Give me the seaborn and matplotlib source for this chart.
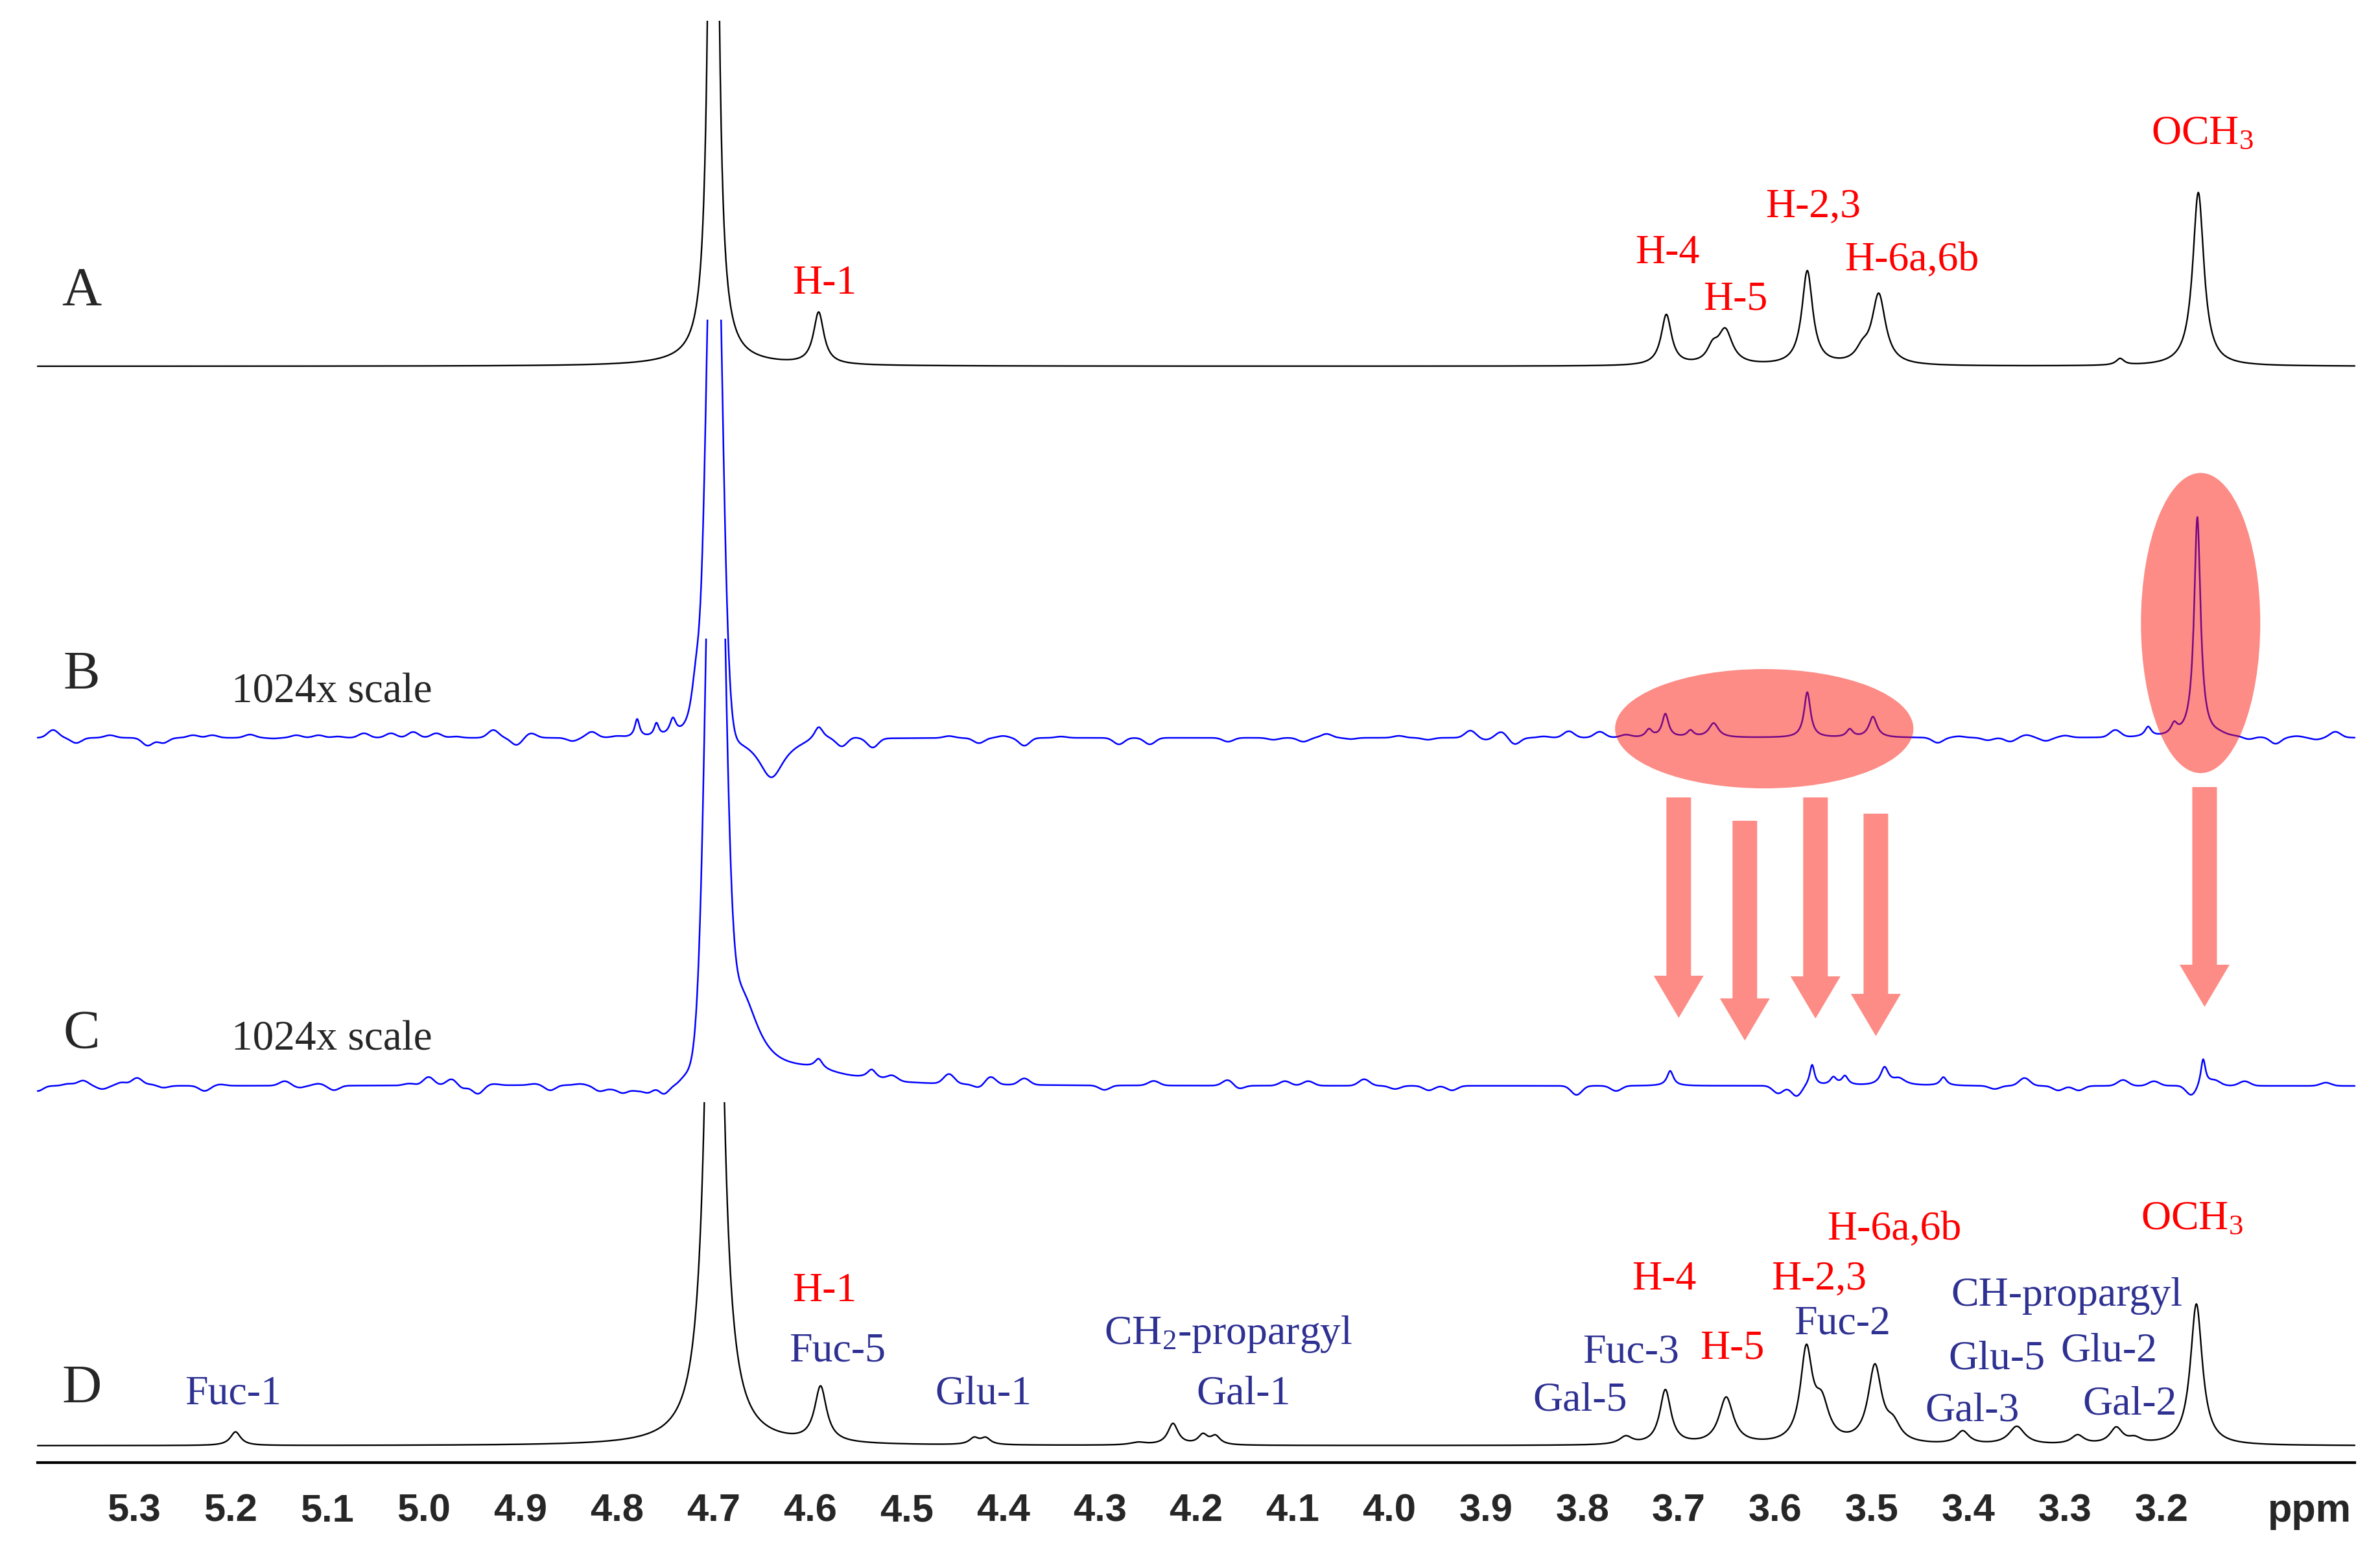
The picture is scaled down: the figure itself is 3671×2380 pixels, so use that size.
import numpy as np
import matplotlib
matplotlib.use('Agg')
import matplotlib.pyplot as plt
from matplotlib.patches import Ellipse, Rectangle
import seaborn as sns

# chemical shift axis
ppm = np.linspace(5.40, 3.00, 4801)

# --- peak tables: (shift ppm, height, half width ppm) ---
# A: reference compound, black
a_peaks = [(4.700, 1900, 0.0039), (4.700, 6, 0.06), (4.591, 80, 0.0065),
           (3.713, 78, 0.0065), (3.665, 22, 0.007), (3.652, 52, 0.009),
           (3.567, 145, 0.0068), (3.510, 18, 0.008), (3.493, 108, 0.0085),
           (3.243, 10, 0.005), (3.162, 268, 0.007)]

# B: 1024x scale, blue (HOD core is gaussian)
b_core = [(4.699, 1000, 0.0074)]
b_peaks = [(4.779, 28, 0.003), (4.759, 20, 0.003), (4.742, 25, 0.004),
           (4.718, 90, 0.007), (4.640, -62, 0.016), (4.591, 22, 0.006),
           (3.731, 12, 0.004), (3.714, 36, 0.004), (3.688, 10, 0.004),
           (3.664, 22, 0.006), (3.567, 70, 0.004), (3.523, 12, 0.004),
           (3.499, 32, 0.005), (3.214, 15, 0.004), (3.187, 16, 0.004),
           (3.163, 340, 0.004)]
b_noise = [(5.384, 12), (5.360, -8), (5.325, 4), (5.286, -12), (5.270, -8),
           (5.239, 4), (5.219, 4), (5.180, 5), (5.156, -1), (5.132, 4),
           (5.109, 4), (5.089, 2), (5.062, 7), (5.034, 7), (5.011, 9),
           (4.987, 7), (4.967, 2), (4.928, 12), (4.904, -11), (4.889, 7),
           (4.846, -5), (4.826, 9), (4.800, 2), (4.567, -12), (4.555, 2),
           (4.535, -14), (4.500, 0), (4.456, 3), (4.425, -8), (4.400, 3),
           (4.378, -12), (4.340, 2), (4.280, -10), (4.248, -10), (4.167, -6),
           (4.120, -3), (4.089, -6), (4.065, 6), (4.040, -2), (3.990, 3),
           (3.960, -3), (3.916, 11), (3.900, -3), (3.884, 9), (3.870, -10),
           (3.840, 2), (3.814, 10), (3.782, 9), (3.755, 4), (3.432, -8),
           (3.410, 2), (3.380, -4), (3.357, -6), (3.340, 4), (3.320, -5),
           (3.300, 3), (3.248, 11), (3.140, 2), (3.110, -4), (3.082, -10),
           (3.060, 2), (3.040, -3), (3.020, 9)]

# C: 1024x scale, blue
c_core = [(4.698, 1188, 0.0087)]
c_peaks = [(4.672, 140, 0.022), (4.600, 18, 0.05), (4.591, 15, 0.005),
           (4.536, 15, 0.006), (4.780, -10, 0.03), (3.709, 23, 0.004),
           (3.562, 32, 0.003), (3.540, 12, 0.004), (3.528, 14, 0.004),
           (3.487, 27, 0.005), (3.472, 10, 0.008), (3.426, 13, 0.004),
           (3.157, 42, 0.003)]
c_noise = [(5.400, -8), (5.368, 3), (5.353, 8), (5.333, -5), (5.313, 5),
           (5.297, 12), (5.282, 2), (5.270, -3), (5.227, -8), (5.211, 2),
           (5.144, 7), (5.129, -3), (5.109, 3), (5.093, -7), (5.015, 3),
           (4.995, 13), (4.971, 10), (4.960, -5), (4.944, -13), (4.928, 2),
           (4.885, 2), (4.869, -8), (4.838, 2), (4.818, -8), (4.806, -3),
           (4.794, -8), (4.779, -4), (4.767, -10), (4.751, -18), (4.739, -8),
           (4.515, 8), (4.456, 15), (4.425, -5), (4.413, 12), (4.378, 10),
           (4.295, -7), (4.244, 7), (4.167, 9), (4.156, -5), (4.108, 7),
           (4.084, 7), (4.026, 10), (3.994, -5), (3.959, -7), (3.935, -7),
           (3.806, -14), (3.765, -8), (3.597, -12), (3.578, -17), (3.373, -5),
           (3.342, 12), (3.307, -7), (3.286, -7), (3.240, 9), (3.208, 7),
           (3.169, -16), (3.145, 7), (3.114, 7), (3.030, 5)]

# D: product, black
d_peaks = [(5.195, 21, 0.0065), (4.699, 1472, 0.0078), (4.589, 85, 0.0075),
           (4.430, 10, 0.006), (4.418, 10, 0.006), (4.260, 4, 0.01),
           (4.224, 33, 0.0065), (4.193, 15, 0.006), (4.180, 13, 0.006),
           (3.755, 12, 0.008), (3.714, 84, 0.007), (3.651, 72, 0.009),
           (3.568, 140, 0.0075), (3.552, 55, 0.009), (3.497, 118, 0.0085),
           (3.478, 25, 0.009), (3.406, 20, 0.008), (3.350, 28, 0.010),
           (3.287, 14, 0.008), (3.247, 25, 0.008), (3.228, 8, 0.008),
           (3.164, 218, 0.0075)]

red_a = ['H-1', 'H-4', 'H-5', 'H-2,3', 'H-6a,6b', 'OCH$_3$']
red_d = ['H-1', 'H-4', 'H-5', 'H-2,3', 'H-6a,6b', 'OCH$_3$']
blue_d = ['Fuc-1', 'Fuc-5', 'Glu-1', 'CH$_2$-propargyl', 'Gal-1', 'Gal-5',
          'Fuc-3', 'Fuc-2', 'CH-propargyl', 'Glu-5', 'Glu-2', 'Gal-3', 'Gal-2']
panel_names = ['A', 'B', 'C', 'D']
scale_note = '1024x scale'


def lorentz(peaks):
    out = np.zeros_like(ppm)
    for pos, h, w in peaks:
        out += h * w ** 2 / ((ppm - pos) ** 2 + w ** 2)
    return out


def gauss(peaks):
    out = np.zeros_like(ppm)
    for pos, h, s in peaks:
        out += h * np.exp(-0.5 * ((ppm - pos) / s) ** 2)
    return out


def wiggle(noise):
    return gauss([(p, a, 0.0055) for p, a in noise])


spec_a = lorentz(a_peaks)
spec_b = gauss(b_core) + lorentz(b_peaks) + wiggle(b_noise)
spec_c = gauss(c_core) + lorentz(c_peaks) + wiggle(c_noise)
spec_d = lorentz(d_peaks)

sns.set_style('white')
plt.rcParams['font.family'] = ['Liberation Serif', 'DejaVu Serif']
plt.rcParams['mathtext.fontset'] = 'custom'
plt.rcParams['mathtext.rm'] = 'Liberation Serif'
plt.rcParams['mathtext.it'] = 'Liberation Serif:italic'

fig = plt.figure(figsize=(36.71, 23.80), dpi=100)
ax = fig.add_axes([58 / 3671, 124 / 2380, 3574 / 3671, 2256 / 2380])

# stacked traces: (signal, vertical offset, cut-off height, colour, width)
traces = [(spec_a, 1691, 533, 'black', 1.7),
          (spec_b, 1118, 645, '#0000FF', 1.8),
          (spec_c, 581, 690, '#0000FF', 1.8),
          (spec_d, 26, 530, 'black', 1.7)]
for sig, off, cut, col, lw in traces:
    n0 = len(ax.lines)
    sns.lineplot(x=ppm, y=off + sig, ax=ax, color=col, linewidth=lw,
                 estimator=None, sort=False)
    for ln in ax.lines[n0:]:
        ln.set_clip_path(Rectangle((2.9, -60), 2.6, off + cut + 60,
                                   transform=ax.transData))
        ln.set_zorder(2)

# highlight ellipses and arrows
hl = dict(facecolor='#FA0F00', edgecolor='none', alpha=0.48, zorder=3)
ax.add_patch(Ellipse((3.6116, 1132), 0.309, 184, **hl))
ax.add_patch(Ellipse((3.1596, 1295), 0.1236, 463, **hl))
for x, top, tip in [(3.7002, 1026, 686), (3.6317, 990, 651),
                    (3.5585, 1026, 685), (3.4960, 1001, 658),
                    (3.1555, 1042, 703)]:
    ax.arrow(x, top, 0, tip - top, width=0.0255, head_width=0.0517,
             head_length=65, length_includes_head=True, **hl)

# panel letters and scale notes
for name, (x, y) in zip(panel_names, [(5.3544, 1785), (5.3544, 1193),
                                      (5.3544, 639), (5.3544, 92)]):
    ax.text(x, y, name, fontsize=61, ha='center', va='baseline')
for y in [1173, 636]:
    ax.text(5.199, y, scale_note, fontsize=47, ha='left', va='baseline')

red_a_xy = [(4.5847, 1803), (3.7116, 1850), (3.6411, 1778), (3.5612, 1921),
            (3.4591, 1839), (3.1576, 2034)]
red_d_xy = [(4.5847, 249), (3.7156, 267), (3.6445, 160), (3.5551, 267),
            (3.4772, 344), (3.1683, 360)]
blue_d_xy = [(5.1972, 90), (4.5719, 156), (4.4202, 91), (4.1663, 183),
             (4.1509, 91), (3.8023, 81), (3.7499, 154), (3.5310, 199),
             (3.2985, 242), (3.3704, 144), (3.2543, 157), (3.3960, 65),
             (3.2328, 74)]
for labels, xy, col in [(red_a, red_a_xy, '#FF0000'), (red_d, red_d_xy, '#FF0000'),
                        (blue_d, blue_d_xy, '#2E3192')]:
    for s, (x, y) in zip(labels, xy):
        ax.text(x, y, s, fontsize=46, color=col, ha='center', va='baseline',
                zorder=4)

# axis
ax.set_xlim(5.40, 3.00)
ax.set_ylim(0, 2256)
major = np.round(np.arange(5.4, 2.95, -0.1), 1)
ax.set_xticks(major)
ax.set_xticklabels(['' if v in (5.4, 3.1, 3.0) else f'{v:.1f}' for v in major])
ax.set_xticks(np.round(np.arange(3.0, 5.41, 0.02), 2), minor=True)
ax.set_yticks([])
ax.tick_params(axis='x', which='major', direction='out', length=22, width=1.6,
               pad=12, labelsize=43, color='black')
ax.tick_params(axis='x', which='minor', direction='out', length=8, width=1.4,
               color='black')
for lbl in ax.get_xticklabels():
    lbl.set_fontfamily(['Liberation Sans', 'DejaVu Sans'])
    lbl.set_fontweight('bold')
for side in ['left', 'right', 'top']:
    ax.spines[side].set_visible(False)
ax.spines['bottom'].set_linewidth(3)
ax.spines['bottom'].set_color('black')
ax.set_xlabel('')
ax.set_ylabel('')
ax.text(0.9986, -0.0405, 'ppm', transform=ax.transAxes, ha='right',
        va='baseline', fontsize=44, fontweight='bold',
        family=['Liberation Sans', 'DejaVu Sans'])

fig.savefig('out.png', dpi=100)
